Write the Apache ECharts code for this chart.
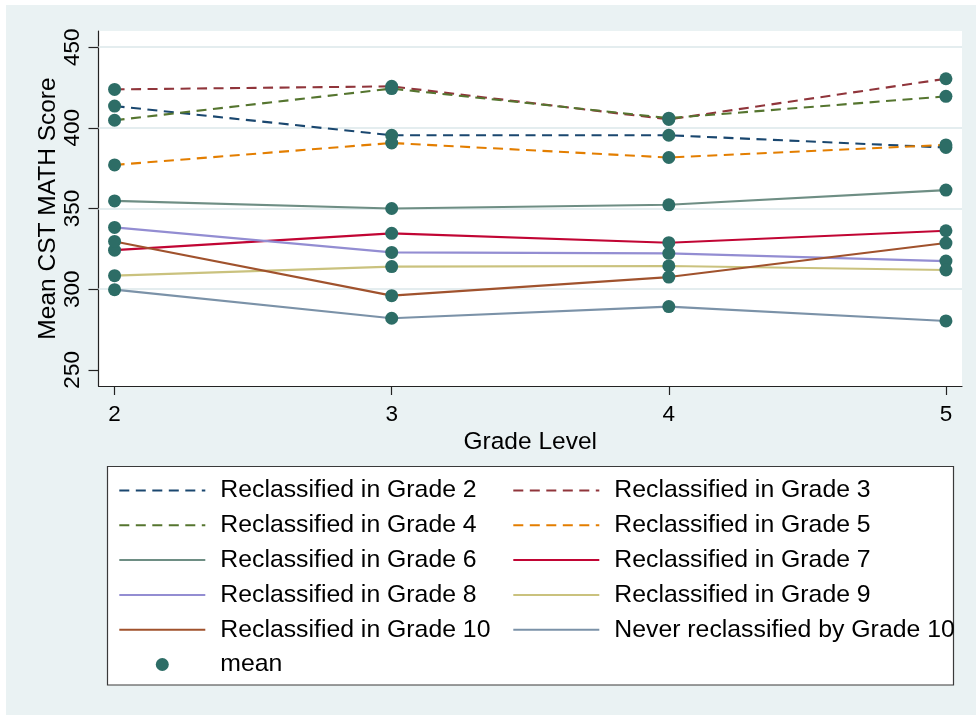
<!DOCTYPE html>
<html>
<head>
<meta charset="utf-8">
<title>Mean CST MATH Score by Grade Level</title>
<script src="https://cdn.jsdelivr.net/npm/echarts@6/dist/echarts.min.js"></script>
<style>
  html, body { margin: 0; padding: 0; background: #ffffff; }
  #chart { width: 976px; height: 715px; }
</style>
</head>
<body>
<div id="chart"></div>
<script>
// Grade levels on the x axis and score ticks on the y axis
const grades = [2, 3, 4, 5];
const yTicks = [250, 300, 350, 400, 450];
const gridValues = [300, 350, 400, 450];

// Mean CST math score per grade, one array per reclassification group
const reclassG2 = [413.5, 395.4, 395.4, 387.8];
const reclassG3 = [423.8, 425.7, 405.2, 430.4];
const reclassG4 = [404.7, 424.3, 406.0, 419.5];
const reclassG5 = [377.0, 390.6, 381.6, 389.4];
const reclassG6 = [354.7, 350.0, 352.3, 361.4];
const reclassG7 = [324.2, 334.6, 328.8, 336.2];
const reclassG8 = [338.3, 322.8, 322.2, 317.4];
const reclassG9 = [308.4, 314.0, 314.4, 311.9];
const reclassG10 = [329.6, 296.0, 307.5, 328.6];
const neverReclass = [299.7, 282.0, 289.2, 280.3];

const groupNames = [
  'Reclassified in Grade 2', 'Reclassified in Grade 3',
  'Reclassified in Grade 4', 'Reclassified in Grade 5',
  'Reclassified in Grade 6', 'Reclassified in Grade 7',
  'Reclassified in Grade 8', 'Reclassified in Grade 9',
  'Reclassified in Grade 10', 'Never reclassified by Grade 10'
];
const groupValues = [reclassG2, reclassG3, reclassG4, reclassG5, reclassG6,
  reclassG7, reclassG8, reclassG9, reclassG10, neverReclass];
const meanName = 'mean';

// Styling
const groupColors = ['#1a476f', '#90353b', '#55752f', '#e37e00', '#6e8e84',
  '#c10534', '#938dd2', '#cac27e', '#a0522d', '#7b92a8'];
const groupDashed = [true, true, true, true, false, false, false, false, false, false];
const meanColor = '#2d6d66';
const FONT = '"Liberation Sans", Arial, Helvetica, sans-serif';
const BG = '#eaf2f3';

const lineSeries = groupNames.map((name, k) => ({
  name: name,
  type: 'line',
  data: grades.map((g, i) => [g, groupValues[k][i]]),
  symbol: 'none',
  showSymbol: false,
  z: 2,
  lineStyle: {
    color: groupColors[k],
    width: 2.1,
    type: groupDashed[k] ? [10, 6.5] : 'solid'
  },
  itemStyle: { color: groupColors[k] },
  emphasis: { disabled: true },
  animation: false
}));

// Reference grid lines drawn through the y scale
lineSeries[0].markLine = {
  silent: true,
  symbol: 'none',
  label: { show: false },
  lineStyle: { color: '#e4edef', width: 2, type: 'solid' },
  data: gridValues.map(v => ({ yAxis: v })),
  z: 1
};

const meanPoints = [];
groupValues.forEach(vals => grades.forEach((g, i) => meanPoints.push([g, vals[i]])));

const meanSeries = {
  name: meanName,
  type: 'scatter',
  data: meanPoints,
  symbol: 'circle',
  symbolSize: 13,
  z: 5,
  itemStyle: { color: meanColor, opacity: 1 },
  emphasis: { disabled: true },
  animation: false
};

// Legend entries: line keys show only the line, the mean key shows the dot
const lineKey = name => ({ name: name, itemStyle: { opacity: 0 } });

const legendText = { fontFamily: FONT, fontSize: 24.8, color: '#000', lineHeight: 25, padding: [0, 0, 0, 10] };
const legendCommon = {
  orient: 'vertical',
  top: 478,
  itemWidth: 86,
  itemHeight: 13,
  itemGap: 9.8,
  padding: 0,
  selectedMode: false,
  textStyle: legendText
};

const option = {
  backgroundColor: '#ffffff',
  animation: false,
  graphic: [
    {
      type: 'rect', z: -10, silent: true,
      shape: { x: 6, y: 5, width: 970, height: 710 },
      style: { fill: BG }
    },
    {
      type: 'rect', z: 0, silent: true,
      shape: { x: 107.5, y: 466.5, width: 846, height: 218.5 },
      style: { fill: '#ffffff', stroke: '#3a3a3a', lineWidth: 1.2 }
    }
  ],
  grid: {
    show: true,
    left: 98.5, right: 14, top: 31, bottom: 329,
    backgroundColor: '#ffffff',
    borderWidth: 0,
    containLabel: false
  },
  xAxis: {
    type: 'value',
    min: 1.942,
    max: 5.058,
    name: 'Grade Level',
    nameLocation: 'middle',
    nameGap: 43.5,
    nameMoveOverlap: false,
    nameTextStyle: { fontFamily: FONT, fontSize: 24.5, color: '#000', verticalAlign: 'top' },
    axisLine: { show: true, onZero: false, lineStyle: { color: '#222', width: 1.2 } },
    axisTick: { show: true, length: 9, customValues: grades, lineStyle: { color: '#222', width: 1.2 } },
    axisLabel: { customValues: grades, margin: 17.5, fontFamily: FONT, fontSize: 22.5, color: '#000' },
    splitLine: { show: false }
  },
  yAxis: {
    type: 'value',
    min: 240,
    max: 460,
    name: 'Mean CST MATH Score',
    nameLocation: 'middle',
    nameRotate: 90,
    nameGap: 38,
    nameMoveOverlap: false,
    nameTextStyle: { fontFamily: FONT, fontSize: 24.5, color: '#000' },
    axisLine: { show: true, onZero: false, lineStyle: { color: '#222', width: 1.2 } },
    axisTick: { show: true, length: 10, customValues: yTicks, lineStyle: { color: '#222', width: 1.2 } },
    axisLabel: { customValues: yTicks, rotate: 90, margin: 14, fontFamily: FONT, fontSize: 22.5, color: '#000' },
    splitLine: { show: false }
  },
  legend: [
    Object.assign({}, legendCommon, {
      left: 118.3,
      data: [lineKey(groupNames[0]), lineKey(groupNames[2]), lineKey(groupNames[4]),
        lineKey(groupNames[6]), lineKey(groupNames[8]), meanName]
    }),
    Object.assign({}, legendCommon, {
      left: 512.3,
      data: [lineKey(groupNames[1]), lineKey(groupNames[3]), lineKey(groupNames[5]),
        lineKey(groupNames[7]), lineKey(groupNames[9])]
    })
  ],
  tooltip: { show: false },
  series: lineSeries.concat([meanSeries])
};

const chart = echarts.init(document.getElementById('chart'), null, { renderer: 'canvas' });
chart.setOption(option);
</script>
</body>
</html>
